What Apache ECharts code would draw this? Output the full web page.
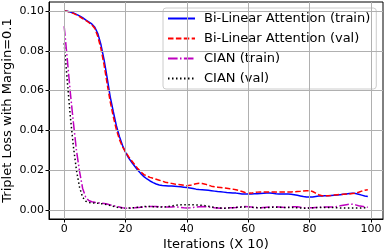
<!DOCTYPE html>
<html><head><meta charset="utf-8">
<script src="https://cdn.jsdelivr.net/npm/echarts@6/dist/echarts.min.js"></script>
<style>html,body{margin:0;padding:0;background:#fff}#c{width:386px;height:251px}</style>
</head><body><div id="c"></div>
<script>
var iterations = [];
for (var i = 0; i < 100; i++) iterations.push(i);
var xTicks = [0, 20, 40, 60, 80, 100];
var yTicks = [0, 0.02, 0.04, 0.06, 0.08, 0.10];
var seriesNames = ['Bi-Linear Attention (train)', 'Bi-Linear Attention (val)', 'CIAN (train)', 'CIAN (val)'];

var bilinearTrain = [
0.1000,0.0998,0.0995,0.0990,0.0983,0.0975,0.0966,0.0955,0.0945,0.0935,
0.0918,0.0885,0.0830,0.0755,0.0665,0.0570,0.0495,0.0425,0.0370,0.0325,
0.0290,0.0262,0.0240,0.0220,0.0200,0.0183,0.0168,0.0156,0.0146,0.0138,
0.0131,0.0126,0.0123,0.0122,0.0121,0.0121,0.0120,0.0118,0.0117,0.0115,
0.0113,0.0111,0.0108,0.0105,0.0103,0.0102,0.0101,0.0099,0.0097,0.0095,
0.0093,0.0092,0.0090,0.0088,0.0087,0.0086,0.0085,0.0083,0.0081,0.0080,
0.0080,0.0081,0.0082,0.0082,0.0083,0.0084,0.0085,0.0085,0.0084,0.0082,
0.0081,0.0081,0.0081,0.0080,0.0079,0.0077,0.0074,0.0071,0.0068,0.0066,
0.0065,0.0066,0.0068,0.0070,0.0071,0.0072,0.0072,0.0073,0.0074,0.0075,
0.0077,0.0079,0.0081,0.0083,0.0085,0.0083,0.0079,0.0075,0.0071,0.0068];

var bilinearVal = [
0.1000,0.0998,0.0993,0.0988,0.0980,0.0972,0.0962,0.0953,0.0942,0.0930,
0.0912,0.0870,0.0810,0.0730,0.0635,0.0545,0.0470,0.0405,0.0355,0.0318,
0.0292,0.0268,0.0248,0.0228,0.0208,0.0192,0.0178,0.0170,0.0164,0.0160,
0.0155,0.0150,0.0145,0.0140,0.0137,0.0134,0.0131,0.0129,0.0127,0.0124,
0.0122,0.0124,0.0128,0.0132,0.0134,0.0133,0.0130,0.0125,0.0120,0.0117,
0.0115,0.0113,0.0111,0.0109,0.0107,0.0105,0.0102,0.0098,0.0093,0.0088,
0.0084,0.0085,0.0088,0.0090,0.0091,0.0091,0.0091,0.0090,0.0090,0.0090,
0.0091,0.0091,0.0091,0.0091,0.0091,0.0092,0.0093,0.0094,0.0096,0.0097,
0.0097,0.0093,0.0085,0.0077,0.0072,0.0071,0.0072,0.0073,0.0075,0.0077,
0.0078,0.0079,0.0080,0.0081,0.0083,0.0085,0.0089,0.0095,0.0100,0.0102];

var cianTrain = [
0.0923,0.0760,0.0590,0.0440,0.0300,0.0195,0.0110,0.0065,0.0048,0.0042,
0.0039,0.0037,0.0035,0.0033,0.0030,0.0026,0.0022,0.0018,0.0015,0.0012,
0.0010,0.0009,0.0010,0.0011,0.0013,0.0014,0.0016,0.0017,0.0018,0.0018,
0.0018,0.0017,0.0016,0.0015,0.0015,0.0015,0.0016,0.0015,0.0013,0.0011,
0.0010,0.0011,0.0013,0.0015,0.0017,0.0018,0.0017,0.0015,0.0013,0.0011,
0.0010,0.0009,0.0009,0.0010,0.0011,0.0012,0.0013,0.0015,0.0017,0.0018,
0.0017,0.0015,0.0013,0.0012,0.0012,0.0013,0.0014,0.0015,0.0016,0.0016,
0.0015,0.0014,0.0013,0.0014,0.0016,0.0017,0.0016,0.0014,0.0012,0.0011,
0.0011,0.0012,0.0013,0.0014,0.0015,0.0015,0.0015,0.0015,0.0016,0.0018,
0.0021,0.0024,0.0027,0.0029,0.0029,0.0026,0.0022,0.0019,0.0016,0.0014];

var cianVal = [
0.0838,0.0650,0.0470,0.0320,0.0200,0.0115,0.0065,0.0045,0.0038,0.0036,
0.0035,0.0034,0.0032,0.0030,0.0027,0.0023,0.0019,0.0015,0.0012,0.0010,
0.0009,0.0010,0.0011,0.0012,0.0014,0.0015,0.0017,0.0018,0.0018,0.0017,
0.0016,0.0015,0.0015,0.0016,0.0018,0.0020,0.0023,0.0025,0.0026,0.0027,
0.0027,0.0027,0.0026,0.0026,0.0025,0.0024,0.0022,0.0019,0.0016,0.0013,
0.0011,0.0010,0.0009,0.0010,0.0011,0.0012,0.0013,0.0014,0.0015,0.0015,
0.0015,0.0014,0.0013,0.0012,0.0012,0.0012,0.0012,0.0013,0.0014,0.0014,
0.0014,0.0013,0.0013,0.0013,0.0013,0.0012,0.0011,0.0010,0.0009,0.0009,
0.0010,0.0011,0.0012,0.0013,0.0013,0.0013,0.0013,0.0013,0.0012,0.0011,
0.0010,0.0010,0.0010,0.0010,0.0010,0.0010,0.0010,0.0010,0.0011,0.0011];

function pairs(ys) { return iterations.map(function (x, i) { return [x, ys[i]]; }); }

var FONT = 'DejaVu Sans';
var chart = echarts.init(document.getElementById('c'), null, { renderer: 'canvas' });
function mkSeries(name, data, color, type) {
  return {
    name: name, type: 'line', data: pairs(data), showSymbol: false, symbol: 'none',
    smooth: false, animation: false, z: 3,
    lineStyle: { color: color, width: 1.5, type: type, cap: 'butt' },
    itemStyle: { color: color }
  };
}
var gridLines = xTicks.map(function (v) { return { xAxis: v }; })
  .concat(yTicks.map(function (v) { return { yAxis: v }; }));
chart.setOption({
  animation: false,
  textStyle: { fontFamily: FONT },
  grid: { left: 49, top: 2, right: 3, bottom: 32, show: true, borderColor: '#000', borderWidth: 1,
    backgroundColor: 'transparent', containLabel: false, outerBoundsMode: 'none' },
  legend: {
    orient: 'vertical', left: 163, top: 8,
    padding: [4, 6, 4, 4], itemGap: 7, itemWidth: 27, itemHeight: 10,
    backgroundColor: 'rgba(255,255,255,0.85)', borderColor: '#cccccc', borderWidth: 1, borderRadius: 3,
    itemStyle: { opacity: 0, borderWidth: 0 },
    textStyle: { fontFamily: FONT, fontSize: 13, color: '#000', padding: [0, 0, 0, 4] },
    data: seriesNames
  },
  xAxis: {
    type: 'value', min: -4.95, max: 103.95,
    name: 'Iterations (X 10)', nameLocation: 'middle', nameGap: 19, nameMoveOverlap: false,
    nameTextStyle: { fontFamily: FONT, fontSize: 13, color: '#000' },
    axisLine: { show: true, onZero: false, lineStyle: { color: '#000', width: 1 } },
    axisTick: { show: true, inside: false, length: 3.5, customValues: xTicks, lineStyle: { color: '#000' } },
    axisLabel: { customValues: xTicks, fontFamily: FONT, fontSize: 11, color: '#000', margin: 5 },
    splitLine: { show: false }
  },
  yAxis: {
    type: 'value', min: -0.0045, max: 0.1045,
    name: 'Triplet Loss with Margin=0.1', nameLocation: 'middle', nameGap: 35, nameMoveOverlap: false,
    nameTextStyle: { fontFamily: FONT, fontSize: 13, color: '#000' },
    axisLine: { show: true, onZero: false, lineStyle: { color: '#000', width: 1 } },
    axisTick: { show: true, inside: false, length: 3.5, customValues: yTicks, lineStyle: { color: '#000' } },
    axisLabel: { customValues: yTicks, fontFamily: FONT, fontSize: 11, color: '#000', margin: 5,
      formatter: function (v) { return v.toFixed(2); } },
    splitLine: { show: false }
  },
  series: [
    {
      type: 'line', data: [], silent: true, z: 1,
      markLine: { silent: true, symbol: ['none', 'none'], animation: false,
        label: { show: false },
        lineStyle: { color: '#b0b0b0', width: 1, type: 'solid' },
        emphasis: { disabled: true },
        data: gridLines }
    },
    mkSeries(seriesNames[0], bilinearTrain, '#0000ff', 'solid'),
    mkSeries(seriesNames[1], bilinearVal, '#ff0000', [5.5, 2.4]),
    mkSeries(seriesNames[2], cianTrain, '#bf00bf', [9.6, 2.4, 1.5, 2.4]),
    mkSeries(seriesNames[3], cianVal, '#000000', [1.5, 2.5])
  ]
});
</script></body></html>
